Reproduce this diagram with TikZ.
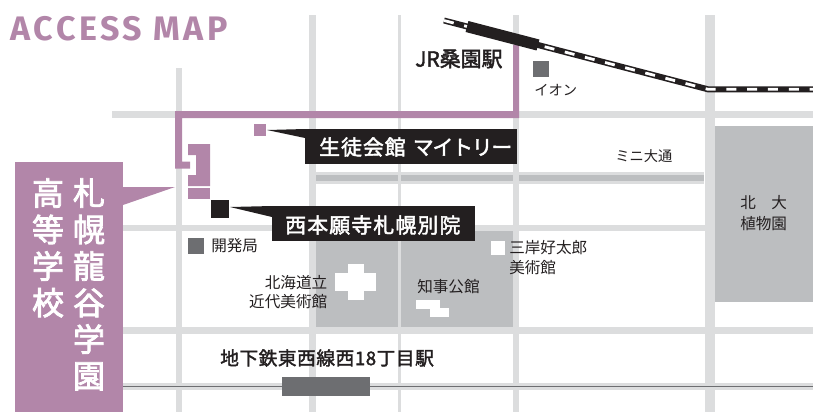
\documentclass[tikz,border=0pt]{standalone}
\usepackage{fontspec}
\setmainfont{Noto Sans CJK JP}
\newfontfamily\jpreg{Noto Sans CJK JP}
\newfontfamily\jpmed[FakeBold=2,LetterSpace=3]{Noto Sans CJK JP}
\newfontfamily\jpjr[FakeBold=2]{Noto Sans CJK JP}
\newfontfamily\jpbox[FakeBold=2.2,LetterSpace=5]{Noto Sans CJK JP}
\newfontfamily\jpboxn[FakeBold=2.2,LetterSpace=6]{Noto Sans CJK JP}
\newfontfamily\jpboxk[FakeBold=2.2,LetterSpace=-5.5]{Noto Sans CJK JP}
\newfontfamily\jpwide[FakeBold=2.5]{Noto Sans CJK JP}
\newfontfamily\titlefont[LetterSpace=10]{Fira Sans}
\definecolor{roadc}{HTML}{DCDDDE}
\definecolor{blockc}{HTML}{BCBEC0}
\definecolor{purp}{HTML}{B286A9}
\definecolor{ink}{HTML}{231F20}
\definecolor{markc}{HTML}{6D6E71}
\tikzset{
  x=0.75pt,y=-0.75pt,
  road/.style={fill=roadc,draw=none},
  blockarea/.style={fill=blockc,draw=none},
  purplearea/.style={fill=purp,draw=none},
  inkarea/.style={fill=ink,draw=none},
  marker/.style={fill=markc,draw=none},
  whitearea/.style={fill=white,draw=none},
  lab/.style={inner sep=0pt,anchor=west,text=ink,font=\jpreg\fontsize{11.7}{15}\selectfont},
  labsmall/.style={lab,font=\jpreg\fontsize{10.7}{15}\selectfont},
  labr/.style={lab,anchor=east},
  strong/.style={inner sep=0pt,anchor=west,text=ink,font=\jpmed\fontsize{14}{16}\selectfont},
  strongjr/.style={strong,font=\jpjr\fontsize{15.7}{16}\selectfont},
  boxtext/.style={inner sep=0pt,anchor=west,text=white,font=\jpbox\fontsize{15.6}{18}\selectfont},
  boxtextn/.style={boxtext,font=\jpboxn\fontsize{15.6}{18}\selectfont},
  vtext/.style={inner sep=0pt,anchor=north,text=white,align=center,font=\jpwide\fontsize{24}{27.4}\selectfont},
}
\begin{document}
\begin{tikzpicture}
\path[use as bounding box] (0,0) rectangle (813,412);
% horizontal roads
\path[road] (112,111) rectangle (813,117.5);
\path[road] (315,172) rectangle (704,184);
\path[road] (123,225) rectangle (813,231);
\path[road] (123,327) rectangle (813,333.5);
\path[road] (123,383) rectangle (813,390);
% blocks
\path[blockarea] (315,231) rectangle (397.5,327);
\path[blockarea] (401,231) rectangle (513,327);
\path[blockarea] (714,126) rectangle (813,302);
\path[blockarea] (315,175) rectangle (704,181);
% vertical roads
\path[road] (176,68) rectangle (182,412);
\path[road] (309,15) rectangle (315.5,412);
\path[road] (398,15) rectangle (401.3,412);
\path[road] (513,15) rectangle (519,412);
\path[road] (704.7,15) rectangle (714.5,412);
% subway
\draw[markc,line width=1.1pt] (123,386.5) -- (813,386.5);
\path[marker] (282,377) rectangle (370,396);
% purple route
\path[purplearea] (513,45) -- (519,45) -- (519,118) -- (182,118) -- (182,161.7) -- (190,161.7) -- (190,168.7) -- (175,168.7) -- (175,111) -- (513,111) -- cycle;
% school buildings
\path[purplearea] (188,144) -- (210,144) -- (210,186) -- (188,186) -- (188,175) -- (196,175) -- (196,155) -- (188,155) -- cycle;
\path[purplearea] (188,188) rectangle (210,199);
\path[purplearea] (254,124) rectangle (266,136);
% railway
\coordinate (railA) at (444,20.5);
\coordinate (railB) at (708,89.3);
\coordinate (railC) at (813,89.3);
\draw[ink,line width=4.5pt] (railA) -- (railB) -- (railC);
\draw[white,line width=2.1pt,dash pattern=on 7.5pt off 8.1pt] (railA) -- (railB) -- (railC);
\draw[ink,line width=8.5pt] (467,26.5) -- (538,45);
% markers
\path[inkarea] (211,200) rectangle (229,218);
\path[marker] (188,238) rectangle (204,254);
\path[marker] (533,61) rectangle (549,77);
% white shapes
\path[whitearea] (348,264) rectangle (364,300);
\path[whitearea] (335,273) rectangle (376,291);
\path[whitearea] (416,300) rectangle (440,309);
\path[whitearea] (430,308) rectangle (449,317);
\path[whitearea] (491,241) rectangle (505,255);
% callouts
\path[inkarea] (267,130) -- (305,129) -- (305,138) -- cycle;
\path[inkarea] (305,129) rectangle (517,164);
\path[inkarea] (230,207) -- (272,206) -- (272,217) -- cycle;
\path[inkarea] (272,206) rectangle (475,241);
\path[purplearea] (15,162) rectangle (123,412);
\path[purplearea] (123,187) -- (175,187) -- (123,205) -- cycle;
% texts
\node[inner sep=0pt,anchor=west,text=purp,font=\titlefont\bfseries\fontsize{25.5}{28}\selectfont] (title) at (10.5,28.5) {ACCESS MAP};
\node[strongjr] (jr) at (415,59) {JR桑園駅};
\node[labsmall] (aeon) at (534,90) {イオン};
\node[labsmall] (mini) at (615,156) {ミニ大通};
\node[boxtext] (seito) at (319,147) {生徒会館\hspace{0.35em}{\jpboxk マイトリー}};
\node[boxtextn] (nishi) at (285,225) {西本願寺札幌別院};
\node[lab] (kaihatsu) at (211,246) {開発局};
\node[labr] (kinbi1) at (327.5,283) {北海道立};
\node[labr] (kinbi2) at (327.5,302) {近代美術館};
\node[lab] (chiji) at (417,287) {知事公館};
\node[lab] (migishi1) at (509,248) {三岸好太郎};
\node[lab] (migishi2) at (509,268) {美術館};
\node[lab] (hoku) at (740,203) {北\hspace{1em}大};
\node[lab] (shoku) at (740,224) {植物園};
\node[strong] (subway) at (220,358) {地下鉄東西線西18丁目駅};
\node[vtext] (gakuen) at (89,178) {札\\幌\\龍\\谷\\学\\園};
\node[vtext] (koko) at (48,178) {高\\等\\学\\校};
\end{tikzpicture}
\end{document}
